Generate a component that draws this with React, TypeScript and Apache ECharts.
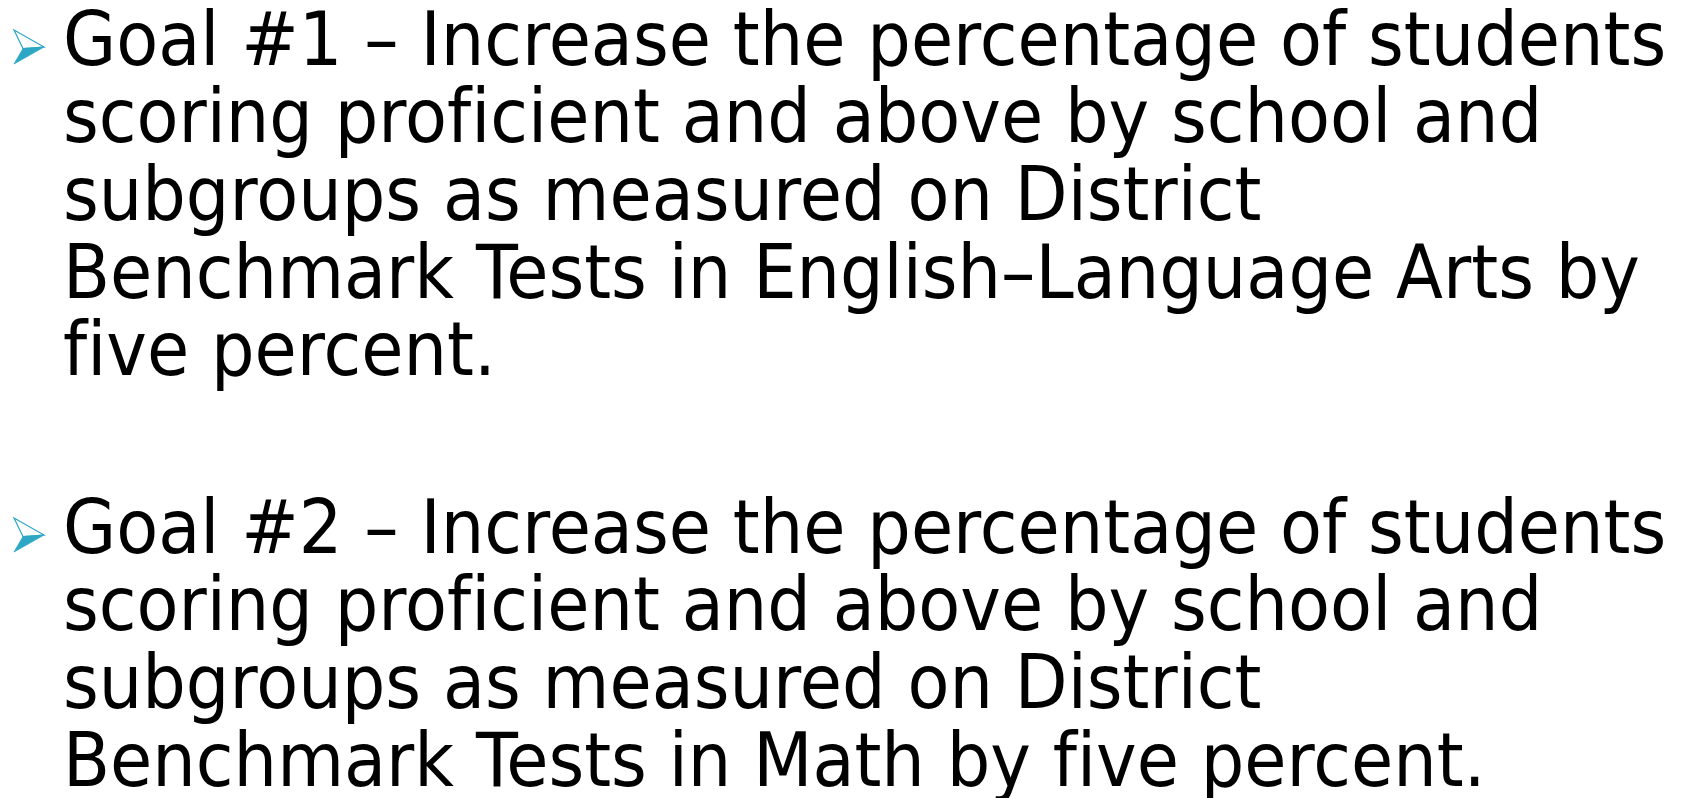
import React, { useEffect, useRef } from "react";
import * as echarts from "echarts";

// Slide content
const goal1Lines: string[] = [
  "Goal #1 – Increase the percentage of students",
  "scoring proficient and above by school and",
  "subgroups as measured on District",
  "Benchmark Tests in English–Language Arts by",
  "five percent.",
];
const goal2Lines: string[] = [
  "Goal #2 – Increase the percentage of students",
  "scoring proficient and above by school and",
  "subgroups as measured on District",
  "Benchmark Tests in Math by five percent.",
];

// Layout
const FONT_FAMILY = "DejaVu Sans";
const FONT_SIZE = 74;
const CENTRAL_RATIO = 0.346;
const TEXT_LEFT = 63;
const LINE_PITCH = 77.6;
const PARA_BASELINES = [65, 553];
const FIRST_LINE_TARGET_WIDTH = 1604;
const TEAL = "#2EA7C5";

function measureScale(): number {
  try {
    const c = document.createElement("canvas");
    const ctx = c.getContext("2d");
    if (!ctx) return 1;
    ctx.font = `${FONT_SIZE}px "${FONT_FAMILY}"`;
    const w = ctx.measureText(goal1Lines[0]).width;
    return w > 0 ? FIRST_LINE_TARGET_WIDTH / w : 1;
  } catch (e) {
    return 1;
  }
}

function bullet(baseline: number): any[] {
  const top = baseline - 35;
  const tipY = baseline - 18;
  const bottom = baseline - 1;
  return [
    {
      type: "polygon",
      shape: { points: [[14, top], [44, tipY], [23, tipY + 1.5]] },
      style: { fill: "#ffffff", stroke: TEAL, lineWidth: 1.2 },
    },
    {
      type: "polygon",
      shape: { points: [[23, tipY + 1.5], [44, tipY], [14, bottom]] },
      style: { fill: TEAL, stroke: TEAL, lineWidth: 0.8 },
    },
  ];
}

export default function App() {
  const ref = useRef<HTMLDivElement>(null);
  useEffect(() => {
    if (!ref.current) return;
    const chart = echarts.init(ref.current, undefined, { renderer: "svg" });
    const sx = measureScale();
    const centralOffset = CENTRAL_RATIO * FONT_SIZE;
    const elements: any[] = [];
    [goal1Lines, goal2Lines].forEach((lines, p) => {
      const base = PARA_BASELINES[p];
      elements.push(...bullet(base));
      lines.forEach((line, i) => {
        elements.push({
          type: "text",
          x: TEXT_LEFT,
          y: base + i * LINE_PITCH - centralOffset,
          scaleX: sx,
          style: {
            text: line,
            x: 0,
            y: 0,
            fontFamily: FONT_FAMILY,
            fontSize: FONT_SIZE,
            lineHeight: 58,
            fill: "#000000",
            align: "left",
            verticalAlign: "middle",
          },
        });
      });
    });
    chart.setOption({
      animation: false,
      backgroundColor: "#ffffff",
      graphic: { elements },
    });
    return () => chart.dispose();
  }, []);
  return (
    <div
      ref={ref}
      style={{
        position: "fixed",
        left: 0,
        top: 0,
        width: 1688,
        height: 798,
        fontVariantLigatures: "none",
      }}
    />
  );
}
